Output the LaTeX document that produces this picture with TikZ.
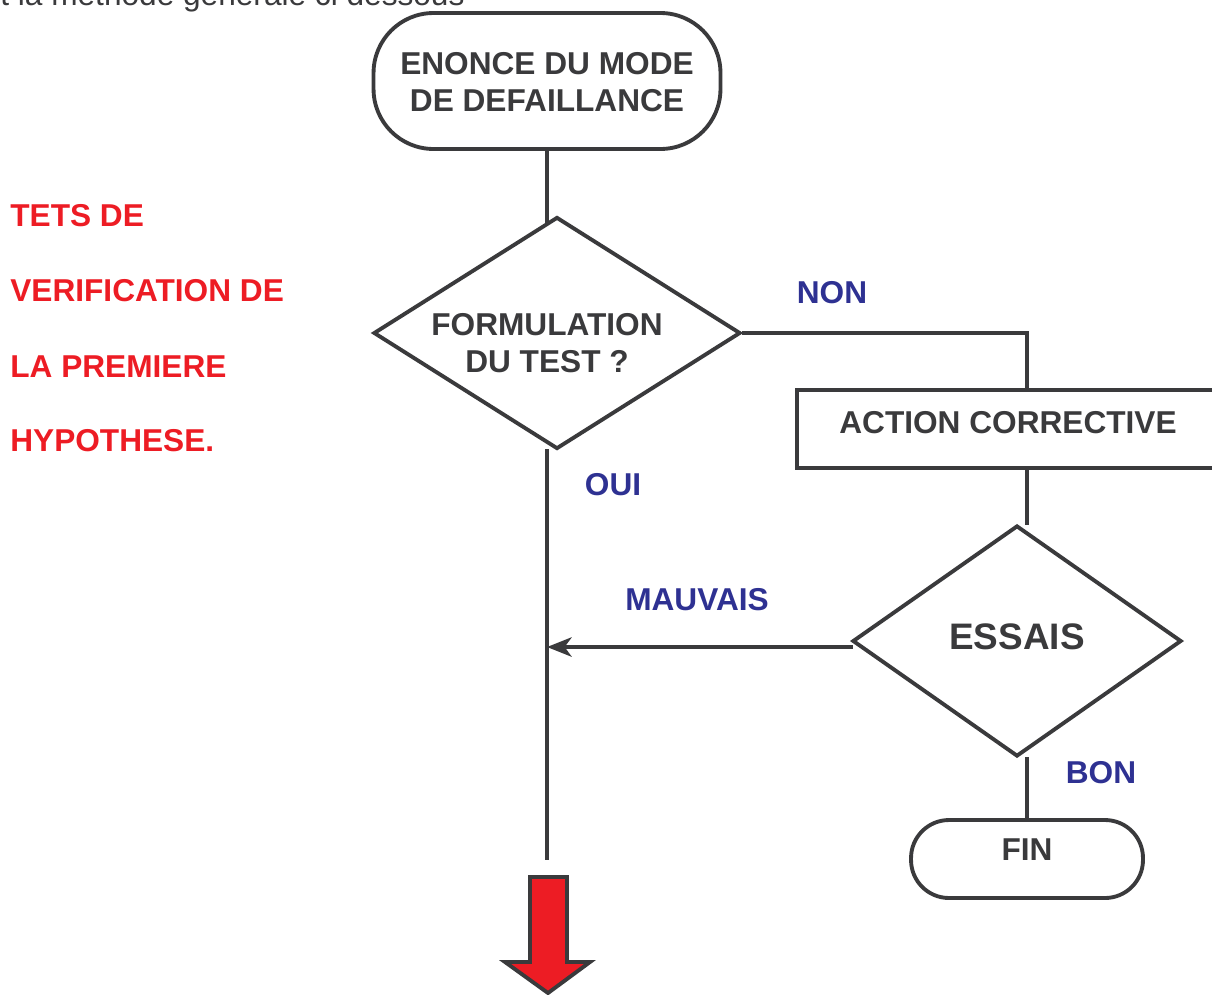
\documentclass[tikz,border=0pt]{standalone}
\usepackage{fontspec}
\setmainfont{Liberation Sans}
\usetikzlibrary{shapes.geometric,arrows.meta}
\definecolor{ink}{HTML}{3A3A3C}
\definecolor{redt}{HTML}{ED1C24}
\definecolor{bluet}{HTML}{2E3192}
\tikzset{
  px/.style={x=0.02cm,y=-0.02cm},
  line/.style={draw=ink,line width=2.2pt},
  txt/.style={font=\fontsize{18}{21}\selectfont\bfseries,text=ink,align=center,inner sep=0pt},
  redtxt/.style={font=\fontsize{18}{21}\selectfont\bfseries,text=redt,anchor=west,inner sep=0pt},
  bluetxt/.style={font=\fontsize{18}{21}\selectfont\bfseries,text=bluet,inner sep=0pt},
  terminal/.style={line,rounded corners=#1,inner sep=0pt},
  decision/.style={line,diamond,inner sep=0pt},
}
\begin{document}
\begin{tikzpicture}[px]
\useasboundingbox (0,0) rectangle (1212,994);
\clip (0,0) rectangle (1212,994);
% top cut text
\node[anchor=base west,inner sep=0pt,font=\fontsize{18}{21}\selectfont,text=ink] (top) at (0,5) {t la méthode générale ci dessous};
% start terminal
\node[terminal=1.2cm,minimum width=6.94cm,minimum height=2.72cm] (t1) at (547,81) {};
\node[txt] (t1t) at (547,82) {ENONCE DU MODE\\DE DEFAILLANCE};
% decision 1
\node[decision,minimum width=7.34cm,minimum height=4.64cm] (d1) at (557,333) {};
\node[txt] (d1t) at (547,343) {FORMULATION\\DU TEST ?};
% action box
\node[line,rectangle,minimum width=8.46cm,minimum height=1.56cm,inner sep=0pt] (box) at (1008.5,429) {};
\node[txt] (boxt) at (1008,423) {ACTION CORRECTIVE};
% decision 2
\node[decision,minimum width=6.58cm,minimum height=4.62cm] (d2) at (1017,641) {};
\node[txt,font=\fontsize{21}{24}\selectfont\bfseries] (d2t) at (1017,637) {ESSAIS};
% FIN terminal
\node[terminal=0.76cm,minimum width=4.64cm,minimum height=1.56cm] (fin) at (1027,859) {};
\node[txt] (fint) at (1027,850) {FIN};
% coordinates
\coordinate (c1) at (547,223);
\coordinate (c2) at (547,449);
\coordinate (c3) at (547,860);
\coordinate (c4) at (547,647);
\coordinate (c5) at (853,647);
\coordinate (c6) at (1027,390);
\coordinate (c7) at (1027,468);
\coordinate (c8) at (1027,525);
\coordinate (c9) at (1027,757);
% connectors
\draw[line] (t1.south) -- (c1);
\draw[line] (c2) -- (c3);
\draw[line] (d1.east) -| (c6);
\draw[line] (c7) -- (c8);
\draw[line] (c9) -- (fin.north);
\draw[line,-{Stealth[length=14pt,width=11pt,inset=4pt]}] (c5) -- (c4);
% red arrow
\draw[ink,line width=2.2pt,fill=redt,line join=miter] (530,877) -- (567,877) -- (567,962) -- (590,962) -- (548,993) -- (505,962) -- (530,962) -- cycle;
% labels
\node[bluetxt] (lnon) at (832,293) {NON};
\node[bluetxt] (loui) at (613,485) {OUI};
\node[bluetxt] (lmau) at (697,600) {MAUVAIS};
\node[bluetxt] (lbon) at (1101,773) {BON};
% red text
\node[redtxt] (r1) at (10,216) {TETS DE};
\node[redtxt] (r2) at (10,291) {VERIFICATION DE};
\node[redtxt] (r3) at (10,367) {LA PREMIERE};
\node[redtxt] (r4) at (10,441) {HYPOTHESE.};
\end{tikzpicture}
\end{document}
